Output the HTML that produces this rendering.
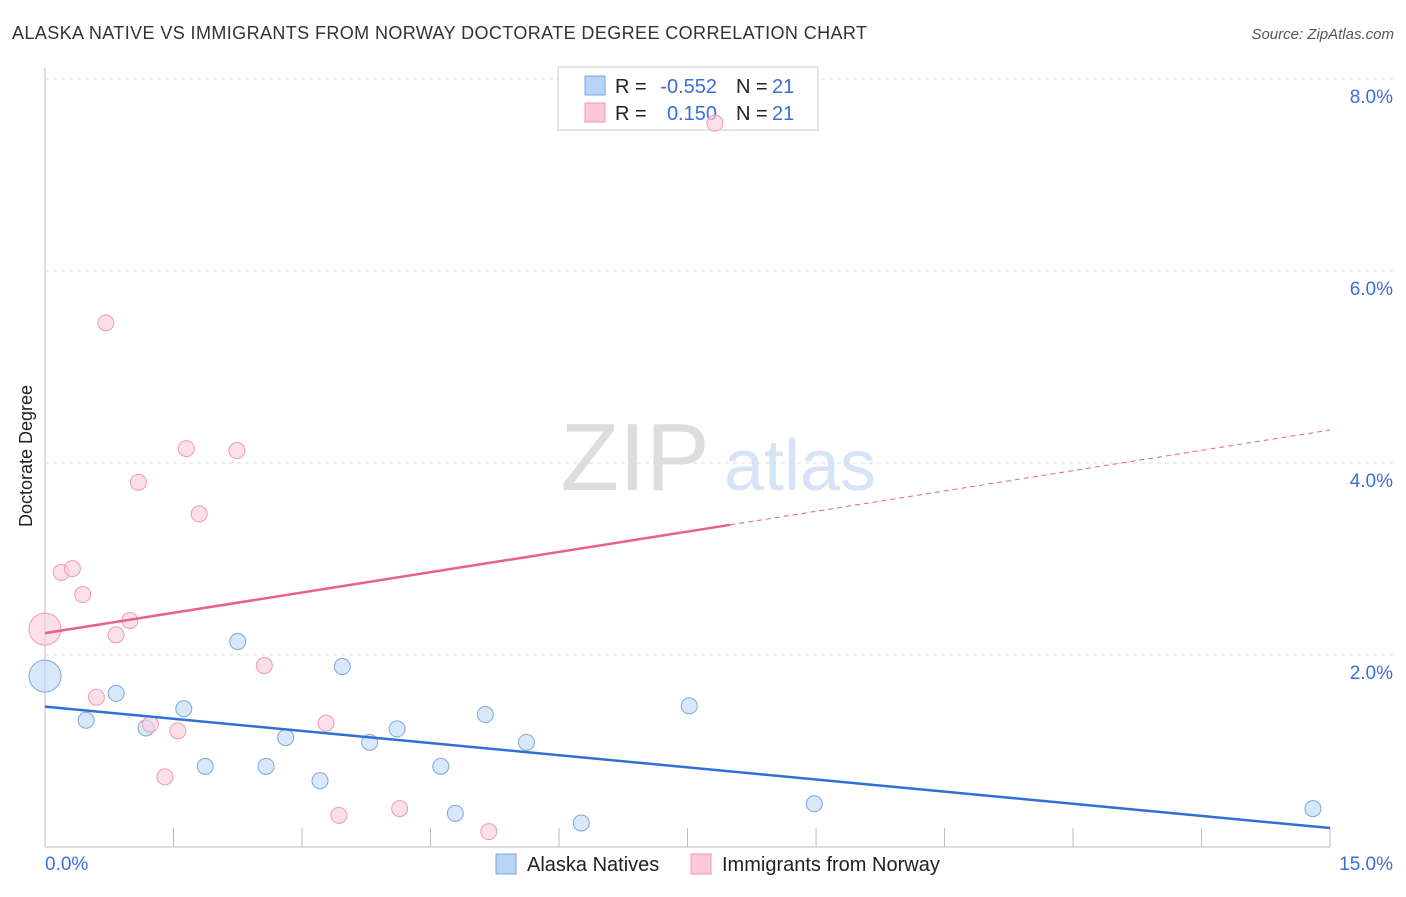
<!DOCTYPE html>
<html><head><meta charset="utf-8">
<style>
body{margin:0;background:#fff;font-family:"Liberation Sans",sans-serif;}
svg text{font-family:"Liberation Sans",sans-serif;}
</style></head>
<body>
<svg id="c" width="1406" height="892" xmlns="http://www.w3.org/2000/svg">
<text x="12" y="39" font-size="18" fill="#333" textLength="855">ALASKA NATIVE VS IMMIGRANTS FROM NORWAY DOCTORATE DEGREE CORRELATION CHART</text>
<text x="1394" y="39" font-size="15" fill="#555" font-style="italic" text-anchor="end">Source: ZipAtlas.com</text>
<text x="32" y="456" font-size="18" fill="#222" text-anchor="middle" transform="rotate(-90 32 456)">Doctorate Degree</text>
<g><text x="635" y="490" font-size="96" fill="#ddd" font-family="Liberation Serif" text-anchor="middle">ZIP</text><text x="800" y="490" font-size="72" fill="#d6e4f5" text-anchor="middle">atlas</text></g>
<g id="grid"></g>
<g>
<rect x="558" y="67" width="260" height="63" fill="#fff" stroke="#ccc"/>
<rect x="585" y="76" width="20" height="19" fill="#b8d3f5" stroke="#7aa7e0"/>
<rect x="585" y="103" width="20" height="19" fill="#fbc9d8" stroke="#ef9ab5"/>
<text x="615" y="93" font-size="20" fill="#222">R =</text><text x="717" y="93" font-size="20" fill="#3a6fd8" text-anchor="end">-0.552</text>
<text x="736" y="93" font-size="20" fill="#222">N =</text><text x="772" y="93" font-size="20" fill="#3a6fd8">21</text>
<text x="615" y="120" font-size="20" fill="#222">R =</text><text x="717" y="120" font-size="20" fill="#3a6fd8" text-anchor="end">0.150</text>
<text x="736" y="120" font-size="20" fill="#222">N =</text><text x="772" y="120" font-size="20" fill="#3a6fd8">21</text>
</g>
<g id="marks"></g>
<g>
<rect x="496" y="854" width="20" height="20" fill="#b8d3f5" stroke="#7aa7e0"/>
<text x="527" y="871" font-size="20" fill="#222">Alaska Natives</text>
<rect x="691" y="854" width="20" height="20" fill="#fbc9d8" stroke="#ef9ab5"/>
<text x="722" y="871" font-size="20" fill="#222">Immigrants from Norway</text>
</g>
</svg>
<script>
const xTicks=[0,1.5,3,4.5,6,7.5,9,10.5,12,13.5,15];
const yTicks=[2,4,6,8];
const yTickLabels=["2.0%","4.0%","6.0%","8.0%"];
const blueX=[0,0.48,0.83,1.18,1.62,1.87,2.25,2.58,2.81,3.21,3.47,3.79,4.11,4.62,4.79,5.14,5.62,6.26,7.52,8.98,14.8];
const blueY=[1.78,1.32,1.60,1.24,1.44,0.84,2.14,0.84,1.14,0.69,1.88,1.09,1.23,0.84,0.35,1.38,1.09,0.25,1.47,0.45,0.40];
const pinkX=[0,0.19,0.32,0.44,0.60,0.71,0.83,0.99,1.09,1.23,1.40,1.55,1.65,1.80,2.24,2.56,3.28,3.43,4.14,5.18,7.82];
const pinkY=[2.27,2.86,2.90,2.63,1.56,5.46,2.21,2.36,3.80,1.28,0.73,1.21,4.15,3.47,4.13,1.89,1.29,0.33,0.40,0.16,7.54];
const pinkSolidEnd=8.0;
const X=v=>45+v*85.67, Y=v=>847-v*96;
const ns="http://www.w3.org/2000/svg";
const grid=document.getElementById('grid'), marks=document.getElementById('marks');
function mk(t,a,p){const e=document.createElementNS(ns,t);for(const k in a)e.setAttribute(k,a[k]);p.appendChild(e);return e;}
let ax=mk('line',{x1:45,y1:68,x2:45,y2:847,stroke:'#bbb'},grid);


let bx=mk('line',{x1:45,y1:847,x2:1330,y2:847,stroke:'#bbb'},grid);


yTicks.forEach((t,i)=>{
 let l=mk('line',{x1:45,y1:Y(t),x2:1394,y2:Y(t),stroke:'#ddd','stroke-dasharray':'4,4'},grid);
 
 
 let tx=mk('text',{x:1393,y:Y(t)+24,'font-size':19,fill:'#3a6fd8','text-anchor':'end'},grid);tx.textContent=yTickLabels[i];
 
 
});
xTicks.forEach((t,i)=>{
 if(i>0){let l=mk('line',{x1:X(t),y1:828,x2:X(t),y2:847,stroke:'#bbb'},grid);
 
 }
});
[[0,'0.0%',45,'start'],[15,'15.0%',1393,'end']].forEach(a=>{
 let tx=mk('text',{x:a[2],y:870,'font-size':19,fill:'#3a6fd8','text-anchor':a[3]},grid);tx.textContent=a[1];
 
 
});
function fit(xs,ys){const n=xs.length;let mx=xs.reduce((a,b)=>a+b)/n,my=ys.reduce((a,b)=>a+b)/n,sxy=0,sxx=0;xs.forEach((x,i)=>{sxy+=(x-mx)*(ys[i]-my);sxx+=(x-mx)**2});const b=sxy/sxx;return [my-b*mx,b];}
function pts(xs,ys,fill,stroke,name){xs.forEach((x,i)=>{
 let c=mk('circle',{cx:X(x),cy:Y(ys[i]),r:i==0?16:8,fill:fill,'fill-opacity':0.65,stroke:stroke,'stroke-width':1},marks);
 
 
});}
pts(blueX,blueY,'#c5dbf6','#7aa7e0','alaska-native-point');
pts(pinkX,pinkY,'#fbd0dd','#ef9ab5','norway-immigrant-point');
let [ba,bb]=fit(blueX,blueY);
let bl=mk('line',{x1:X(0),y1:Y(ba),x2:X(15),y2:Y(ba+bb*15),stroke:'#2f6fd6','stroke-width':2.5},marks);


let [pa,pb]=fit(pinkX,pinkY);
const pmax=Math.max(pinkSolidEnd,Math.max(...pinkX));
let pl=mk('line',{x1:X(0),y1:Y(pa),x2:X(pmax),y2:Y(pa+pb*pmax),stroke:'#e8608b','stroke-width':2.5},marks);


let pd=mk('line',{x1:X(pmax),y1:Y(pa+pb*pmax),x2:X(15),y2:Y(pa+pb*15),stroke:'#e8608b','stroke-width':1,'stroke-dasharray':'5,4'},marks);


</script>
</body></html>
